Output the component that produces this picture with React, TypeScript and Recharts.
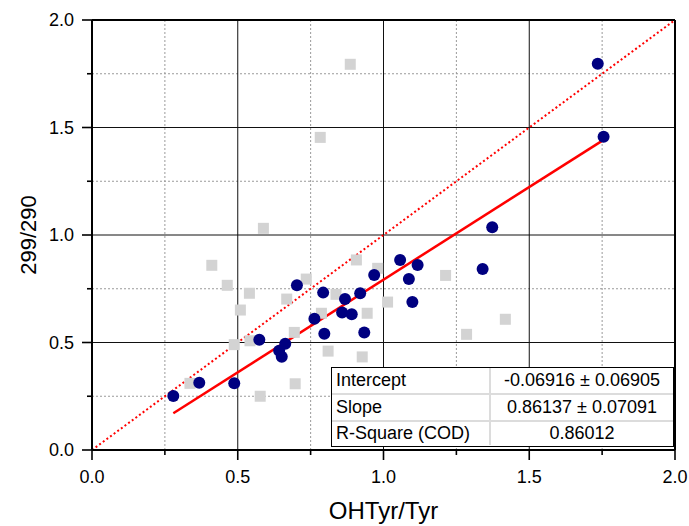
import React from 'react';
import { ScatterChart, Scatter, XAxis, YAxis, CartesianGrid, ReferenceLine } from 'recharts';

const navyPoints = [
  { x: 0.279, y: 0.251 }, { x: 0.368, y: 0.313 }, { x: 0.488, y: 0.31 }, { x: 0.574, y: 0.513 },
  { x: 0.642, y: 0.462 }, { x: 0.651, y: 0.434 }, { x: 0.663, y: 0.494 }, { x: 0.703, y: 0.766 },
  { x: 0.763, y: 0.611 }, { x: 0.793, y: 0.732 }, { x: 0.797, y: 0.541 }, { x: 0.868, y: 0.702 },
  { x: 0.858, y: 0.639 }, { x: 0.891, y: 0.631 }, { x: 0.92, y: 0.729 }, { x: 0.934, y: 0.547 },
  { x: 0.968, y: 0.814 }, { x: 1.057, y: 0.884 }, { x: 1.087, y: 0.795 }, { x: 1.117, y: 0.86 },
  { x: 1.099, y: 0.688 }, { x: 1.34, y: 0.842 }, { x: 1.373, y: 1.036 }, { x: 1.735, y: 1.797 },
  { x: 1.755, y: 1.457 },
];

const greyPoints = [
  { x: 0.886, y: 1.794 }, { x: 0.783, y: 1.454 }, { x: 0.588, y: 1.031 }, { x: 0.411, y: 0.859 },
  { x: 0.464, y: 0.766 }, { x: 0.54, y: 0.729 }, { x: 0.509, y: 0.651 }, { x: 0.488, y: 0.49 },
  { x: 0.542, y: 0.508 }, { x: 0.336, y: 0.31 }, { x: 0.577, y: 0.25 }, { x: 0.697, y: 0.308 },
  { x: 0.694, y: 0.547 }, { x: 0.668, y: 0.702 }, { x: 0.735, y: 0.795 }, { x: 0.787, y: 0.636 },
  { x: 0.81, y: 0.46 }, { x: 0.837, y: 0.724 }, { x: 0.907, y: 0.884 }, { x: 0.944, y: 0.636 },
  { x: 0.927, y: 0.433 }, { x: 0.98, y: 0.845 }, { x: 1.014, y: 0.688 }, { x: 1.213, y: 0.812 },
  { x: 1.285, y: 0.538 }, { x: 1.418, y: 0.608 },
];

const axisTicks = [0, 0.25, 0.5, 0.75, 1, 1.25, 1.5, 1.75, 2];
const majorGrid = [0.5, 1, 1.5];
const minorGrid = [0.25, 0.75, 1.25, 1.75];

const fitIntercept = -0.06916;
const fitSlope = 0.86137;

const statsRows = [
  { label: 'Intercept', value: '-0.06916 ± 0.06905' },
  { label: 'Slope', value: '0.86137 ± 0.07091' },
  { label: 'R-Square (COD)', value: '0.86012' },
];

const FONT = '"Liberation Sans", Arial, sans-serif';

const isMajor = (v: number) => Math.abs(v * 2 - Math.round(v * 2)) < 1e-6;

const YTick = (props: any) => {
  const { x, y, payload } = props;
  const v = payload.value as number;
  const major = isMajor(v);
  return (
    <g>
      <line x1={x - (major ? 10 : 5)} x2={x} y1={y} y2={y} stroke="#000" strokeWidth={1.6} />
      {major && (
        <text x={x - 18} y={y} textAnchor="end" dominantBaseline="central" fontSize={18} fontFamily={FONT} fill="#000">
          {v.toFixed(1)}
        </text>
      )}
    </g>
  );
};

const XTick = (props: any) => {
  const { x, y, payload } = props;
  const v = payload.value as number;
  const major = isMajor(v);
  return (
    <g>
      <line x1={x} x2={x} y1={y} y2={y + (major ? 10 : 5)} stroke="#000" strokeWidth={1.6} />
      {major && (
        <text x={x} y={y + 33} textAnchor="middle" fontSize={18} fontFamily={FONT} fill="#000">
          {v.toFixed(1)}
        </text>
      )}
    </g>
  );
};

const Circle = (props: any) => <circle cx={props.cx} cy={props.cy} r={6} fill="#000080" />;
const Square = (props: any) => (
  <rect x={props.cx - 5.5} y={props.cy - 5.5} width={11} height={11} fill="#d3d3d3" />
);

export default function App() {
  const xs = navyPoints.map((p) => p.x);
  const x0 = Math.min(...xs);
  const x1 = Math.max(...xs);
  const fitSeg = [
    { x: x0, y: fitIntercept + fitSlope * x0 },
    { x: x1, y: fitIntercept + fitSlope * x1 },
  ];
  return (
    <div style={{ position: 'absolute', left: 0, top: 0, width: 689, height: 526, background: '#fff' }}>
      <ScatterChart width={689} height={526} margin={{ top: 20, right: 14, left: 32, bottom: 16 }}>
        <CartesianGrid horizontalValues={minorGrid} verticalValues={minorGrid} stroke="#9a9a9a" strokeDasharray="2 2" />
        <CartesianGrid horizontalValues={majorGrid} verticalValues={majorGrid} stroke="#111" strokeWidth={1} />
        <XAxis
          type="number"
          dataKey="x"
          domain={[0, 2]}
          ticks={axisTicks}
          interval={0}
          tickSize={0}
          tickMargin={0}
          height={60}
          axisLine={{ stroke: '#000', strokeWidth: 2 }}
          tick={<XTick />}
          allowDataOverflow
          label={{
            content: (p: any) => {
              const vb = p.viewBox;
              return (
                <text x={vb.x + vb.width / 2} y={519} textAnchor="middle" fontSize={24} fontFamily={FONT} fill="#000">
                  OHTyr/Tyr
                </text>
              );
            },
          }}
        />
        <YAxis
          type="number"
          dataKey="y"
          domain={[0, 2]}
          ticks={axisTicks}
          interval={0}
          tickSize={0}
          tickMargin={0}
          width={60}
          axisLine={{ stroke: '#000', strokeWidth: 2 }}
          tick={<YTick />}
          allowDataOverflow
          label={{
            content: (p: any) => {
              const vb = p.viewBox;
              const cy = vb.y + vb.height / 2;
              return (
                <text
                  x={28}
                  y={cy}
                  transform={`rotate(-90 28 ${cy})`}
                  textAnchor="middle"
                  dominantBaseline="central"
                  fontSize={22}
                  fontFamily={FONT}
                  fill="#000"
                >
                  299/290
                </text>
              );
            },
          }}
        />
        <ReferenceLine y={2} stroke="#000" strokeWidth={2} />
        <ReferenceLine x={2} stroke="#000" strokeWidth={2} />
        <Scatter data={greyPoints} shape={<Square />} isAnimationActive={false} />
        <Scatter data={navyPoints} shape={<Circle />} isAnimationActive={false} />
        <ReferenceLine
          segment={[{ x: 0, y: 0 }, { x: 2, y: 2 }]}
          stroke="#ff0000"
          strokeWidth={2}
          strokeDasharray="2 2.5"
        />
        <ReferenceLine segment={fitSeg} stroke="#ff0000" strokeWidth={2.5} />
      </ScatterChart>
      <div
        style={{
          position: 'absolute',
          left: 331,
          top: 367,
          width: 343,
          height: 80,
          background: '#fff',
          border: '1.5px solid #000',
          boxSizing: 'border-box',
          fontFamily: FONT,
          fontSize: 18,
          color: '#000',
        }}
      >
        {statsRows.map((r, i) => (
          <div
            key={r.label}
            style={{
              display: 'flex',
              height: i < 2 ? 27 : 23,
              borderBottom: i < 2 ? '2px solid #dcdcdc' : 'none',
              boxSizing: 'border-box',
              alignItems: 'center',
            }}
          >
            <div style={{ width: 159, paddingLeft: 4, boxSizing: 'border-box', borderRight: '2px solid #dcdcdc', height: '100%', display: 'flex', alignItems: 'center' }}>
              {r.label}
            </div>
            <div style={{ flex: 1, textAlign: 'center' }}>{r.value}</div>
          </div>
        ))}
      </div>
    </div>
  );
}
